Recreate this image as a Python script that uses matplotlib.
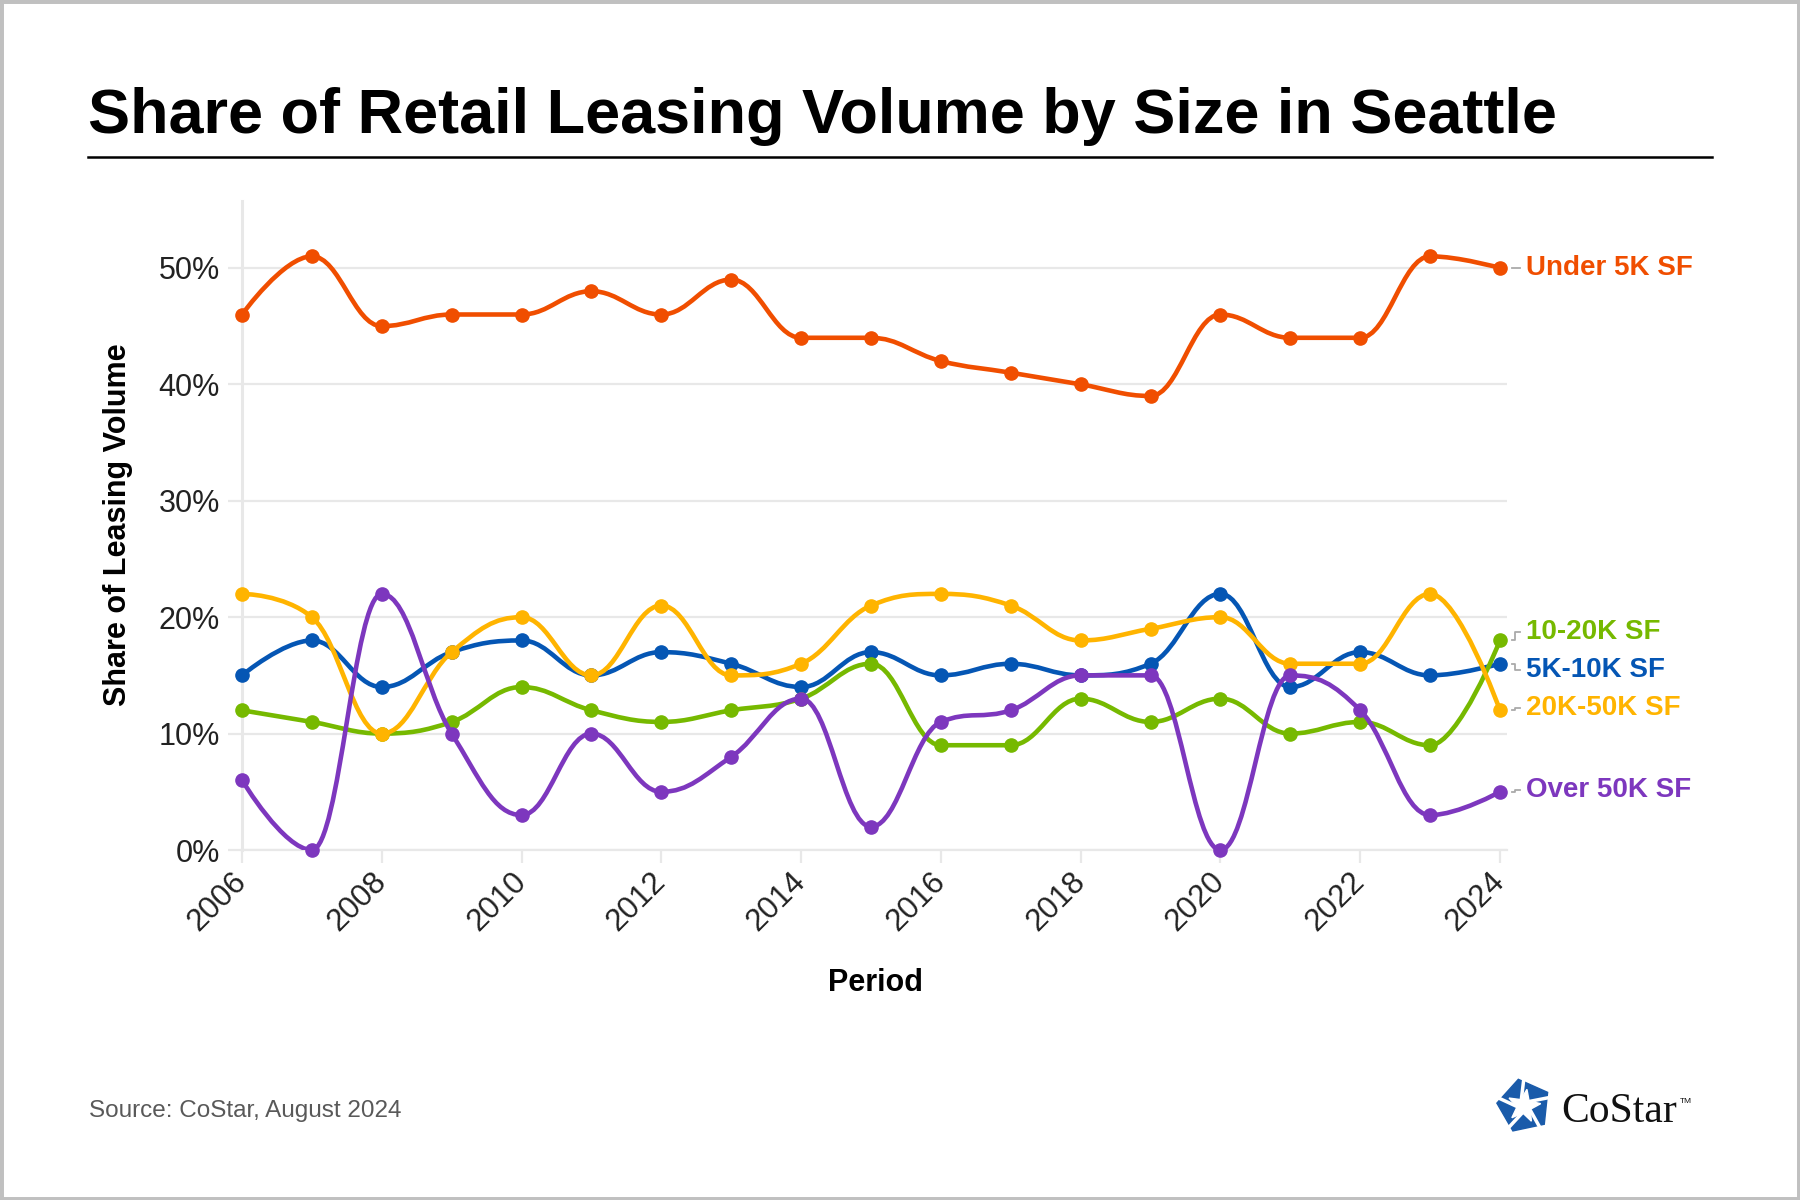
import numpy as np
import matplotlib
matplotlib.use("Agg")
import matplotlib.pyplot as plt
import matplotlib.transforms as mtransforms
from matplotlib.path import Path
from matplotlib.patches import PathPatch, Polygon, Rectangle
from matplotlib.lines import Line2D

plt.rcParams['font.family'] = ['Liberation Sans', 'DejaVu Sans']

years = list(range(2006, 2025))
under_5k = [46, 51, 45, 46, 46, 48, 46, 49, 44, 44, 42, 41, 40, 39, 46, 44, 44, 51, 50]
k5_10 = [15, 18, 14, 17, 18, 15, 17, 16, 14, 17, 15, 16, 15, 16, 22, 14, 17, 15, 16]
k10_20 = [12, 11, 10, 11, 14, 12, 11, 12, 13, 16, 9, 9, 13, 11, 13, 10, 11, 9, 18]
k20_50 = [22, 20, 10, 17, 20, 15, 21, 15, 16, 21, 22, 21, 18, 19, 20, 16, 16, 22, 12]
over_50k = [6, 0, 22, 10, 3, 10, 5, 8, 13, 2, 11, 12, 15, 15, 0, 15, 12, 3, 5]

series_names = ["Under 5K SF", "5K-10K SF", "10-20K SF", "20K-50K SF", "Over 50K SF"]
series_vals = [under_5k, k5_10, k10_20, k20_50, over_50k]
colors = ["#F04E00", "#0556B4", "#76B900", "#FFB400", "#7D37BE"]
# small vertical nudges for the end labels so they do not overlap
label_shift = [0.0, -0.55, 0.7, 0.2, 0.15]

def spline_path(xs, ys, smoothing=1.5):
    denom = smoothing + 1
    n = len(xs)
    lc = [None] * n
    rc = [None] * n
    for i in range(1, n - 1):
        px, py = xs[i], ys[i]
        lx, ly = xs[i - 1], ys[i - 1]
        nx, ny = xs[i + 1], ys[i + 1]
        lcx = (smoothing * px + lx) / denom
        lcy = (smoothing * py + ly) / denom
        rcx = (smoothing * px + nx) / denom
        rcy = (smoothing * py + ny) / denom
        if rcx != lcx:
            corr = ((rcy - lcy) * (rcx - px)) / (rcx - lcx) + py - rcy
            lcy += corr
            rcy += corr
        if lcy > ly and lcy > py:
            lcy = max(ly, py)
            rcy = 2 * py - lcy
        elif lcy < ly and lcy < py:
            lcy = min(ly, py)
            rcy = 2 * py - lcy
        if rcy > ny and rcy > py:
            rcy = max(ny, py)
            lcy = 2 * py - rcy
        elif rcy < ny and rcy < py:
            rcy = min(ny, py)
            lcy = 2 * py - rcy
        lc[i] = (lcx, lcy)
        rc[i] = (rcx, rcy)
    verts = [(xs[0], ys[0])]
    codes = [Path.MOVETO]
    for i in range(1, n):
        c1 = rc[i - 1] if rc[i - 1] else (xs[i - 1], ys[i - 1])
        c2 = lc[i] if lc[i] else (xs[i], ys[i])
        verts += [c1, c2, (xs[i], ys[i])]
        codes += [Path.CURVE4] * 3
    return Path(verts, codes)

fig = plt.figure(figsize=(18, 12), dpi=100)
W, H = 1800, 1200
ax = fig.add_axes([242 / W, 1 - 850 / H, (1507 - 242) / W, (850 - 201) / H])

grid_c = "#e8e8e8"
ax.set_xlim(2006, 2024.1)
ax.set_ylim(0, 55.75)
ax.set_yticks(range(0, 60, 10))
ax.set_yticklabels([f"{v}%" for v in range(0, 60, 10)])
ax.set_xticks(range(2006, 2025, 2))
ax.set_xticklabels([str(y) for y in range(2006, 2025, 2)], rotation=45,
                   ha='right', va='center', rotation_mode='anchor')
shift = mtransforms.ScaledTranslation(8 / 100, 0, fig.dpi_scale_trans)
for lab in ax.get_xticklabels():
    lab.set_transform(lab.get_transform() + shift)
ax.yaxis.grid(True, color=grid_c, lw=1.6)
ax.set_axisbelow(True)
for s in ['top', 'right']:
    ax.spines[s].set_visible(False)
ax.spines['left'].set_color(grid_c)
ax.spines['left'].set_linewidth(2.2)
ax.spines['bottom'].set_color(grid_c)
ax.spines['bottom'].set_linewidth(1.6)
ax.tick_params(axis='y', length=10, width=1.6, color=grid_c, pad=6,
               labelsize=22, labelcolor='#222222')
ax.tick_params(axis='x', length=9, width=1.6, color=grid_c, pad=10.5,
               labelsize=22.5, labelcolor='#222222')

for k, (name, vals, col) in enumerate(zip(series_names, series_vals, colors)):
    patch = PathPatch(spline_path(years, vals), facecolor='none', edgecolor=col,
                      lw=3.3, capstyle='round', joinstyle='round', zorder=3 + k)
    ax.add_patch(patch)
    ax.plot(years, vals, 'o', ms=9.5, color=col, zorder=3 + k, clip_on=False)
    yl = vals[-1] + label_shift[k]
    ax.plot([2024.17, 2024.22, 2024.22, 2024.29], [vals[-1], vals[-1], yl, yl],
            color='#aaaaaa', lw=1.3, clip_on=False)
    ax.text(2024.37, yl, name, color=col, fontsize=20, fontweight='bold',
            va='center', ha='left', clip_on=False)

fig.text(118 / W, 1 - 525 / H, "Share of Leasing Volume", rotation=90,
         fontsize=22, fontweight='bold', ha='center', va='center')
fig.text(875 / W, 1 - 983 / H, "Period", fontsize=22, fontweight='bold',
         ha='center', va='center')

fig.text(88 / W, 1 - 133 / H, "Share of Retail Leasing Volume by Size in Seattle",
         fontsize=45.4, fontweight='bold', ha='left', va='baseline')
fig.add_artist(Line2D([88 / W, 1712 / W], [1 - 157 / H, 1 - 157 / H],
                      color='black', lw=1.8, transform=fig.transFigure))

fig.text(89 / W, 1 - 1117 / H, "Source: CoStar, August 2024", fontsize=17.5,
         color='#595959', ha='left', va='baseline')

# CoStar logo
lax = fig.add_axes([1494 / W, 1 - 1136 / H, 60 / W, 60 / H])
lax.set_xlim(-1.1, 1.1)
lax.set_ylim(-1.1, 1.1)
lax.set_aspect('equal')
lax.axis('off')
ang = np.deg2rad(90 + 12 + np.arange(5) * 72)
pent = np.column_stack([np.cos(ang), np.sin(ang)])
lax.add_patch(Polygon(pent, closed=True, color='#1A5BAA'))
star = []
for i in range(10):
    r = 0.62 if i % 2 == 0 else 0.26
    a = np.deg2rad(90 - 10 + i * 36)
    star.append((r * np.cos(a), r * np.sin(a)))
lax.add_patch(Polygon(star, closed=True, color='white'))
for a in ang:
    a2 = a + np.deg2rad(20)
    lax.plot([0.2 * np.cos(a2), 1.05 * np.cos(a - np.deg2rad(12))],
             [0.2 * np.sin(a2), 1.05 * np.sin(a - np.deg2rad(12))],
             color='white', lw=2.5, solid_capstyle='butt')
fig.text(1561 / W, 1 - 1122 / H, "CoStar", family=['Liberation Serif', 'DejaVu Serif'],
         fontsize=30, color='#111111', ha='left', va='baseline')
fig.text(1680 / W, 1 - 1103 / H, "TM", fontsize=6, color='#111111',
         ha='left', va='baseline')

fig.add_artist(Rectangle((0, 0), 1, 1, transform=fig.transFigure, fill=False,
                         edgecolor='#c0c0c0', lw=5))

fig.savefig("out.png", dpi=100, facecolor='white')
